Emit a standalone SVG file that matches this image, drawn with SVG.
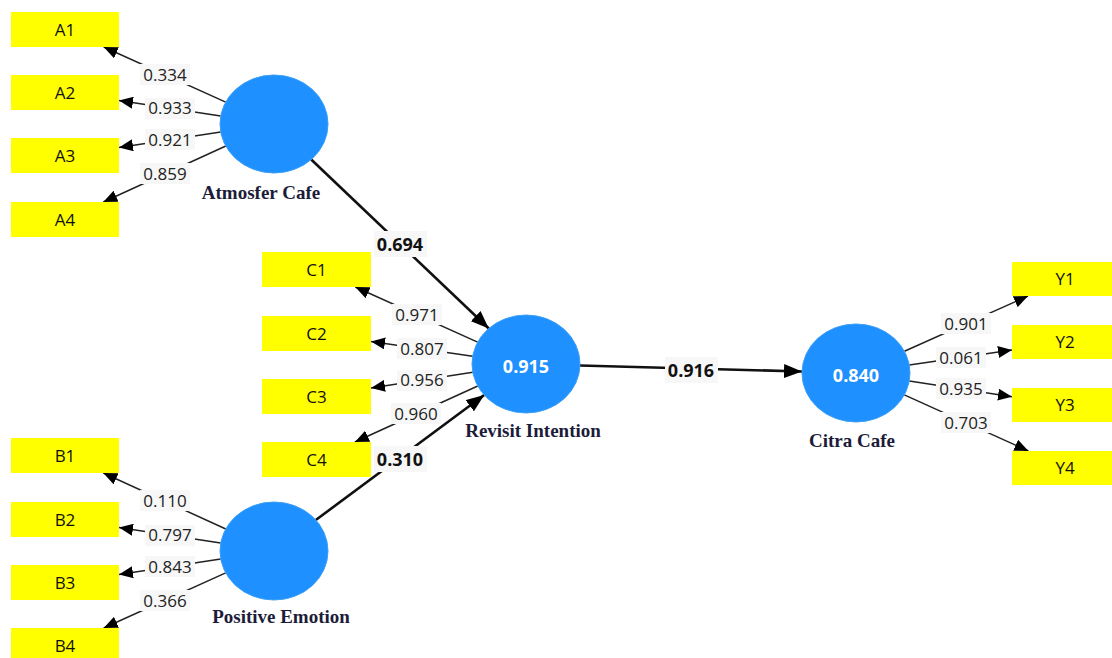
<svg xmlns="http://www.w3.org/2000/svg" width="1112" height="658" viewBox="0 0 1112 658">
<style>
.bg{fill:#ffffff}
.box{fill:#ffff00}
.boxt{font-family:"Open Sans","Liberation Sans",sans-serif;font-size:17px;fill:#111;text-anchor:middle}
.lv{fill:#1e90ff;stroke:#3d9ff5;stroke-width:1}
.lvt{font-family:"Open Sans","Liberation Sans",sans-serif;font-size:18px;font-weight:bold;fill:#ffffff;text-anchor:middle}
.name{font-family:"Liberation Serif","Times New Roman",serif;font-size:19px;font-weight:bold;fill:#1c1c3a;text-anchor:middle}
.ind{stroke:#222;stroke-width:1.5;fill:none;marker-end:url(#ah)}
.path{stroke:#111;stroke-width:2.6;fill:none;marker-end:url(#ahb)}
.lbg{fill:#f7f7f7}
.lt{font-family:"Open Sans","Liberation Sans",sans-serif;font-size:17px;fill:#222;text-anchor:middle}
.pt{font-family:"Open Sans","Liberation Sans",sans-serif;font-size:18px;font-weight:bold;fill:#111;text-anchor:middle}
</style>
<defs>
<marker id="ah" markerUnits="userSpaceOnUse" markerWidth="14" markerHeight="12" refX="14" refY="6" orient="auto"><path d="M0,0 L14,6 L0,12 Z" fill="#000"/></marker>
<marker id="ahb" markerUnits="userSpaceOnUse" markerWidth="18" markerHeight="14" refX="18" refY="7" orient="auto"><path d="M0,0 L18,7 L0,14 Z" fill="#000"/></marker>
</defs>
<rect class="bg" x="0" y="0" width="1112" height="658"/>

<g id="connectors">
<line class="ind" x1="225.7" y1="102.1" x2="103.7" y2="47"/>
<line class="ind" x1="220.7" y1="116" x2="119" y2="100.6"/>
<line class="ind" x1="220.7" y1="132" x2="119" y2="147.4"/>
<line class="ind" x1="225.8" y1="146" x2="103.3" y2="202"/>
<line class="ind" x1="225.8" y1="529" x2="103.3" y2="473"/>
<line class="ind" x1="220.7" y1="543" x2="119" y2="527.6"/>
<line class="ind" x1="220.7" y1="559" x2="119" y2="574.4"/>
<line class="ind" x1="225.7" y1="572.9" x2="103.7" y2="628"/>
<line class="ind" x1="477.6" y1="342.1" x2="355.3" y2="287"/>
<line class="ind" x1="472.7" y1="356.2" x2="371" y2="341.4"/>
<line class="ind" x1="472.8" y1="372.3" x2="371" y2="388"/>
<line class="ind" x1="477.7" y1="386" x2="354.9" y2="442"/>
<line class="ind" x1="904.4" y1="351.3" x2="1028" y2="296"/>
<line class="ind" x1="909.3" y1="365.1" x2="1012" y2="350"/>
<line class="ind" x1="909.3" y1="381.1" x2="1012" y2="396.8"/>
<line class="ind" x1="904.3" y1="394.9" x2="1028.4" y2="451"/>
<line class="path" x1="311.2" y1="159.5" x2="488.8" y2="328.5"/>
<line class="path" x1="315.8" y1="520" x2="484.2" y2="395"/>
<line class="path" x1="580" y1="365.5" x2="802" y2="371.5"/>
</g>

<g id="connector-labels">
<rect class="lbg" x="140" y="64" width="50" height="21"/><text class="lt" x="165" y="80.5">0.334</text>
<rect class="lbg" x="145" y="98" width="50" height="21"/><text class="lt" x="170" y="114.3">0.933</text>
<rect class="lbg" x="145" y="129" width="50" height="21"/><text class="lt" x="170" y="145.7">0.921</text>
<rect class="lbg" x="140" y="163" width="50" height="21"/><text class="lt" x="165" y="180">0.859</text>
<rect class="lbg" x="140" y="490" width="50" height="21"/><text class="lt" x="165" y="507">0.110</text>
<rect class="lbg" x="145" y="525" width="50" height="21"/><text class="lt" x="170" y="541.3">0.797</text>
<rect class="lbg" x="145" y="556" width="50" height="21"/><text class="lt" x="170" y="572.7">0.843</text>
<rect class="lbg" x="140" y="590" width="50" height="21"/><text class="lt" x="165" y="606.5">0.366</text>
<rect class="lbg" x="392" y="304" width="50" height="21"/><text class="lt" x="417" y="320.6">0.971</text>
<rect class="lbg" x="397" y="338" width="50" height="21"/><text class="lt" x="422" y="354.8">0.807</text>
<rect class="lbg" x="397" y="370" width="50" height="21"/><text class="lt" x="422" y="386.2">0.956</text>
<rect class="lbg" x="391" y="403" width="50" height="21"/><text class="lt" x="416" y="420">0.960</text>
<rect class="lbg" x="941" y="313" width="50" height="21"/><text class="lt" x="966" y="329.7">0.901</text>
<rect class="lbg" x="936" y="347" width="50" height="21"/><text class="lt" x="961" y="363.6">0.061</text>
<rect class="lbg" x="936" y="378" width="50" height="21"/><text class="lt" x="961" y="395">0.935</text>
<rect class="lbg" x="941" y="412" width="50" height="21"/><text class="lt" x="966" y="429">0.703</text>
<rect class="lbg" x="374" y="231" width="53" height="26"/><text class="pt" x="400" y="250.5">0.694</text>
<rect class="lbg" x="374" y="446" width="53" height="26"/><text class="pt" x="400" y="465.5">0.310</text>
<rect class="lbg" x="665" y="357" width="53" height="26"/><text class="pt" x="691" y="376.5">0.916</text>
</g>

<g id="A1"><rect class="box" x="11" y="12" width="108" height="35"/><text class="boxt" x="65" y="35.5">A1</text></g>
<g id="A2"><rect class="box" x="11" y="75" width="108" height="35"/><text class="boxt" x="65" y="98.5">A2</text></g>
<g id="A3"><rect class="box" x="11" y="138" width="108" height="35"/><text class="boxt" x="65" y="161.5">A3</text></g>
<g id="A4"><rect class="box" x="11" y="202" width="108" height="35"/><text class="boxt" x="65" y="225.5">A4</text></g>
<g id="B1"><rect class="box" x="11" y="438" width="108" height="35"/><text class="boxt" x="65" y="461.5">B1</text></g>
<g id="B2"><rect class="box" x="11" y="502" width="108" height="35"/><text class="boxt" x="65" y="525.5">B2</text></g>
<g id="B3"><rect class="box" x="11" y="565" width="108" height="35"/><text class="boxt" x="65" y="588.5">B3</text></g>
<g id="B4"><rect class="box" x="11" y="628" width="108" height="35"/><text class="boxt" x="65" y="651.5">B4</text></g>
<g id="C1"><rect class="box" x="262" y="252" width="109" height="35"/><text class="boxt" x="316.5" y="275.5">C1</text></g>
<g id="C2"><rect class="box" x="262" y="316" width="109" height="35"/><text class="boxt" x="316.5" y="339.5">C2</text></g>
<g id="C3"><rect class="box" x="262" y="379" width="109" height="35"/><text class="boxt" x="316.5" y="402.5">C3</text></g>
<g id="C4"><rect class="box" x="262" y="442" width="109" height="35"/><text class="boxt" x="316.5" y="465.5">C4</text></g>
<g id="Y1"><rect class="box" x="1012" y="262" width="108" height="34"/><text class="boxt" x="1065" y="285">Y1</text></g>
<g id="Y2"><rect class="box" x="1012" y="325" width="108" height="34"/><text class="boxt" x="1065" y="348">Y2</text></g>
<g id="Y3"><rect class="box" x="1012" y="388" width="108" height="34"/><text class="boxt" x="1065" y="411">Y3</text></g>
<g id="Y4"><rect class="box" x="1012" y="451" width="108" height="34"/><text class="boxt" x="1065" y="474">Y4</text></g>

<g id="atmosfer-cafe"><ellipse class="lv" cx="274" cy="124" rx="54" ry="49"/><text class="name" x="261" y="199">Atmosfer Cafe</text></g>
<g id="positive-emotion"><ellipse class="lv" cx="274" cy="551" rx="54" ry="49"/><text class="name" x="281" y="623">Positive Emotion</text></g>
<g id="revisit-intention"><ellipse class="lv" cx="526" cy="364" rx="54" ry="49"/><text class="lvt" x="526" y="372.5">0.915</text><text class="name" x="533" y="437">Revisit Intention</text></g>
<g id="citra-cafe"><ellipse class="lv" cx="856" cy="373" rx="54" ry="49"/><text class="lvt" x="856" y="381.5">0.840</text><text class="name" x="852" y="447">Citra Cafe</text></g>
</svg>
